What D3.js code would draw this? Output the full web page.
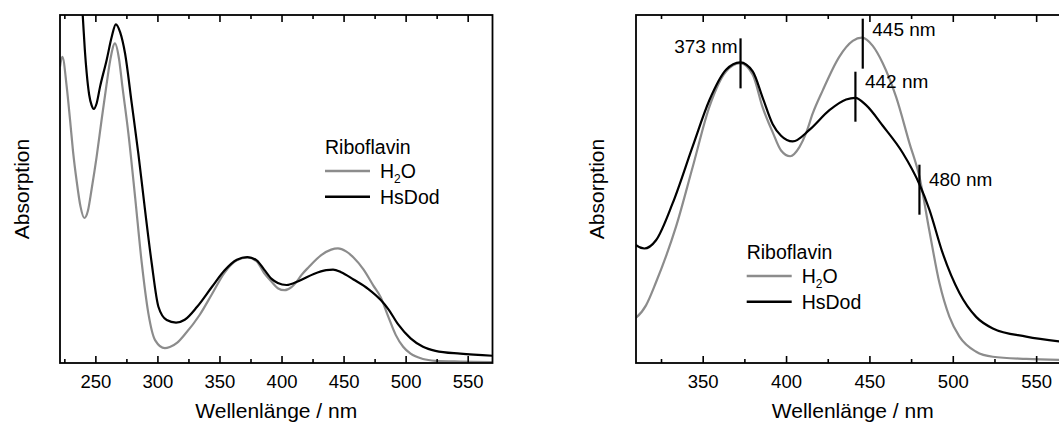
<!DOCTYPE html>
<html>
<head>
<meta charset="utf-8">
<script src="https://cdn.jsdelivr.net/npm/d3@7"></script>
<style>
	body { margin: 0; background: #fff; }
	svg text { font-family: "Liberation Sans", Arial, sans-serif; fill: #000; }
</style>
</head>
<body>
<div id="chart"></div>
<script>

// riboflavin absorption, water vs HsDod (arbitrary units)

var waveH2O = [221.5, 223.4, 226.9, 229.6, 232, 235, 238, 241.1, 244, 247, 251, 255, 259, 262, 265.8, 269, 271.8, 276.6, 282, 287.4, 292.7, 298.1, 306, 310, 316, 322, 334, 344, 354, 364, 372.5, 380, 386, 392, 397, 402.5, 408, 412, 416, 422, 432, 440, 445.5, 452, 458, 466, 474, 480, 486, 492, 498, 504, 514, 524, 544, 570];
var absH2O = [1.022, 1.056, 0.953, 0.838, 0.73, 0.625, 0.54, 0.50, 0.525, 0.60, 0.711, 0.838, 0.96, 1.045, 1.102, 1.05, 0.953, 0.792, 0.573, 0.344, 0.171, 0.079, 0.051, 0.055, 0.07, 0.098, 0.1655, 0.238, 0.311, 0.354, 0.364, 0.35, 0.31, 0.28, 0.258, 0.251, 0.262, 0.279, 0.303, 0.331, 0.372, 0.391, 0.395, 0.385, 0.364, 0.323, 0.267, 0.226, 0.16, 0.097, 0.056, 0.032, 0.0137, 0.0076, 0.005, 0.0035];

var waveHsDod = [230, 236, 239.8, 241.5, 243, 245, 247, 248.7, 251, 253.8, 259.1, 263.2, 266.5, 270, 273.9, 279.3, 284.6, 290, 295.4, 300.8, 307.5, 315, 322, 332, 344, 354, 364, 372.5, 380, 386, 392, 397, 404, 414, 426, 436, 441.5, 448, 458, 470, 480, 486, 494, 504, 514, 524, 544, 570];
var absHsDod = [1.7, 1.4, 1.2, 1.08, 1.0, 0.925, 0.888, 0.876, 0.895, 0.953, 1.045, 1.125, 1.168, 1.14, 1.068, 0.895, 0.723, 0.528, 0.344, 0.194, 0.148, 0.139, 0.149, 0.194, 0.263, 0.319, 0.356, 0.365, 0.354, 0.322, 0.29, 0.276, 0.269, 0.283, 0.307, 0.32, 0.322, 0.313, 0.288, 0.255, 0.217, 0.186, 0.133, 0.085, 0.056, 0.042, 0.032, 0.025];

var seriesNames = ['H\u2082O', 'HsDod'];
var seriesColors = ['#8c8c8c', '#000000'];

var majorTicksLeft = [250, 300, 350, 400, 450, 500, 550];
var minorTicksLeft = [225, 275, 325, 375, 425, 475, 525];
var majorTicksRight = [350, 400, 450, 500, 550];
var minorTicksRight = [325, 375, 425, 475, 525];

var markerNm = [372.7, 446, 441.6, 480];
var markerAbs = [0.3638, 0.3877, 0.3233, 0.2104];
var markerText = ['373 nm', '445 nm', '442 nm', '480 nm'];

var width = 1059, height = 424;

var svg = d3.select('#chart').append('svg')
	.attr('width', width)
	.attr('height', height);

var h2o = waveH2O.map(function(w, i){ return {x: w, y: absH2O[i]}; });
var hsdod = waveHsDod.map(function(w, i){ return {x: w, y: absHsDod[i]}; });

function drawPanel(opts){

	var xScale = d3.scaleLinear().domain(opts.xDomain).range([opts.left, opts.right]),
		yScale = d3.scaleLinear().domain(opts.yDomain).range([opts.bottom, opts.top]);

	var g = svg.append('g').attr('class', 'panel');

	g.append('clipPath').attr('id', opts.id)
		.append('rect')
		.attr('x', opts.left).attr('y', opts.top)
		.attr('width', opts.right - opts.left)
		.attr('height', opts.bottom - opts.top);

	var line = d3.line()
		.x(function(d){ return xScale(d.x); })
		.y(function(d){ return yScale(d.y); })
		.curve(d3.curveMonotoneX);

	g.append('g').attr('clip-path', 'url(#' + opts.id + ')')
		.selectAll('path')
		.data([h2o, hsdod]).enter().append('path')
		.attr('d', line)
		.style('fill', 'none')
		.style('stroke', function(d, i){ return seriesColors[i]; })
		.style('stroke-width', 2.2)
		.style('stroke-linejoin', 'round');

	// ticks point inward, on bottom and top
	var bottom = g.append('g').attr('transform', 'translate(0,' + opts.bottom + ')');
	bottom.call(d3.axisBottom(xScale).tickValues(opts.major).tickSizeInner(-7).tickSizeOuter(0).tickPadding(12));
	bottom.append('g').call(d3.axisBottom(xScale).tickValues(opts.minor).tickSizeInner(-4).tickSizeOuter(0).tickFormat(''));

	var topAxis = g.append('g').attr('transform', 'translate(0,' + opts.top + ')');
	topAxis.call(d3.axisTop(xScale).tickValues(opts.major).tickSizeInner(-7).tickSizeOuter(0).tickFormat(''));
	topAxis.append('g').call(d3.axisTop(xScale).tickValues(opts.minor).tickSizeInner(-4).tickSizeOuter(0).tickFormat(''));

	g.selectAll('.domain').remove();
	g.selectAll('.tick line').style('stroke', '#000').style('stroke-width', 1.6);
	g.selectAll('.tick text').style('font-size', '18.5px').style('font-family', '"Liberation Sans", Arial, sans-serif');

	g.append('rect')
		.attr('x', opts.left).attr('y', opts.top)
		.attr('width', opts.right - opts.left)
		.attr('height', opts.bottom - opts.top)
		.style('fill', 'none')
		.style('stroke', '#000')
		.style('stroke-width', 1.8);

	g.append('text')
		.attr('x', (opts.left + opts.right)/2)
		.attr('y', 418)
		.attr('text-anchor', 'middle')
		.style('font-size', '21px')
		.text('Wellenlänge / nm');

	g.append('text')
		.attr('transform', 'translate(' + opts.yLabelX + ',' + ((opts.top + opts.bottom)/2) + ') rotate(-90)')
		.attr('text-anchor', 'middle')
		.style('font-size', '21px')
		.text('Absorption');

	// legend
	var lg = g.append('g').attr('transform', 'translate(' + opts.legendX + ',' + opts.legendY + ')');
	lg.append('text').attr('x', 0).attr('y', 0).style('font-size', '19.5px').text('Riboflavin');
	seriesNames.forEach(function(name, i){
		var yy = 17.5 + i*25.7;
		lg.append('line')
			.attr('x1', 0).attr('x2', 45)
			.attr('y1', yy).attr('y2', yy)
			.style('stroke', seriesColors[i])
			.style('stroke-width', 2.4);
		var t = lg.append('text').attr('x', 55).attr('y', yy + 7).style('font-size', '19.5px');
		if (i === 0) {
			t.append('tspan').text('H');
			t.append('tspan').attr('dy', 5).style('font-size', '12px').text('2');
			t.append('tspan').attr('dy', -5).text('O');
		} else {
			t.text(name);
		}
	});

	return {x: xScale, y: yScale, g: g};
}

drawPanel({
	id: 'clipLeft', xDomain: [221.5, 570], yDomain: [0, 1.2],
	left: 60, right: 492.5, top: 15, bottom: 363,
	major: majorTicksLeft, minor: minorTicksLeft,
	yLabelX: 28.5, legendX: 325, legendY: 153.5
});

var right = drawPanel({
	id: 'clipRight', xDomain: [310, 570], yDomain: [0, 0.4225],
	left: 636, right: 1069.5, top: 15, bottom: 363,
	major: majorTicksRight, minor: minorTicksRight,
	yLabelX: 603.5, legendX: 746.7, legendY: 258.5
});

// peak markers
var labelDy = [-5, -3, -4, 1];
markerNm.forEach(function(nm, i){
	var cx = right.x(nm), cy = right.y(markerAbs[i]);
	right.g.append('line')
		.attr('x1', cx).attr('x2', cx)
		.attr('y1', cy - 25).attr('y2', cy + 25)
		.style('stroke', '#000')
		.style('stroke-width', 2.2);
	right.g.append('text')
		.attr('x', i === 0 ? cx - 3 : cx + 9.5)
		.attr('y', cy + labelDy[i] - 12 + 7)
		.attr('text-anchor', i === 0 ? 'end' : 'start')
		.style('font-size', '19px')
		.text(markerText[i]);
});

</script>
</body>
</html>
